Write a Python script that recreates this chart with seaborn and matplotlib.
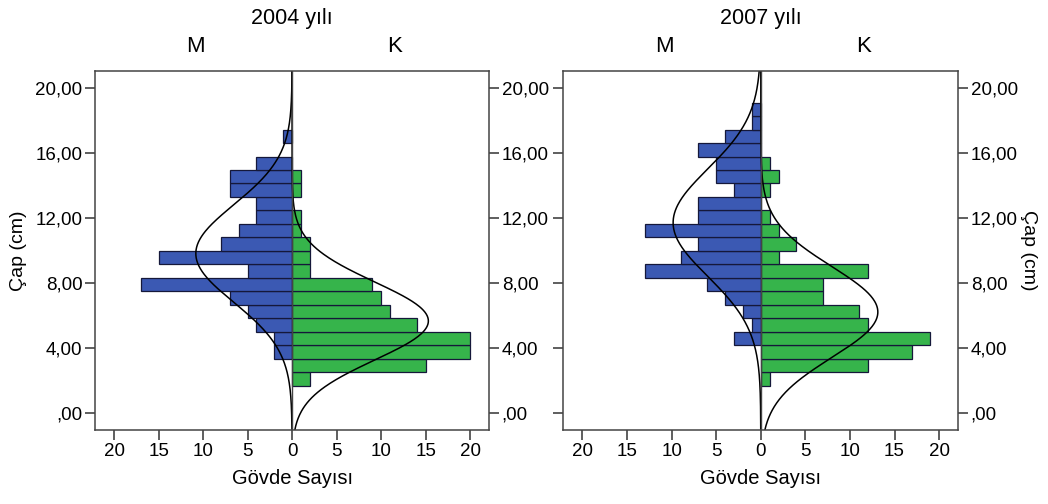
import numpy as np
import pandas as pd
import matplotlib
matplotlib.use("Agg")
import matplotlib.pyplot as plt
import seaborn as sns
from matplotlib.ticker import FuncFormatter

# histogram bins (cm)
bin_start = 1.66
bin_width = 0.83
n_bins = 21

# counts per bin, from bottom (1.66 cm) upward
m_2004 = [0, 0, 2, 2, 4, 5, 7, 17, 5, 15, 8, 6, 4, 4, 7, 7, 4, 0, 1, 0, 0]
k_2004 = [2, 15, 20, 20, 14, 11, 10, 9, 2, 2, 2, 1, 1, 0, 1, 1, 0, 0, 0, 0, 0]
m_2007 = [0, 0, 0, 3, 1, 2, 4, 6, 13, 9, 7, 13, 7, 7, 3, 5, 5, 7, 4, 1, 1]
k_2007 = [1, 12, 17, 19, 12, 11, 7, 7, 12, 2, 4, 2, 1, 0, 1, 2, 1, 0, 0, 0, 0]

# normal curve parameters (mean, sd)
m_2004_fit = (9.8, 3.0)
k_2004_fit = (5.65, 2.4)
m_2007_fit = (11.7, 3.3)
k_2007_fit = (6.2, 2.8)

years = ["2004 yılı", "2007 yılı"]
y_ticks = [0, 4, 8, 12, 16, 20]
x_ticks = [-20, -15, -10, -5, 0, 5, 10, 15, 20]

BLUE = "#3b59b3"
GREEN = "#36b44b"
EDGE = "#15183a"
SPINE = "#444444"
FS = 13.5

sns.set_style("ticks")
plt.rcParams["font.family"] = ["Liberation Sans", "DejaVu Sans"]
plt.rcParams["font.size"] = FS
plt.rcParams["text.color"] = "black"
plt.rcParams["axes.labelcolor"] = "black"

edges = bin_start + bin_width * np.arange(n_bins + 1)
ylim = (-1.06, 21.05)
xlim = (-22.15, 22.15)


def fmt_y(v, pos):
    s = f"{v:.2f}".replace(".", ",")
    return s[1:] if s.startswith("0") else s


fig = plt.figure(figsize=(10.48, 5.04), dpi=100)
ax1 = fig.add_axes([0.0906, 0.1468, 0.3762, 0.7129])
ax2 = fig.add_axes([0.5375, 0.1468, 0.3769, 0.7129])

panels = [(ax1, m_2004, k_2004, m_2004_fit, k_2004_fit),
          (ax2, m_2007, k_2007, m_2007_fit, k_2007_fit)]

for i, (ax, m_counts, k_counts, m_fit, k_fit) in enumerate(panels):
    df = pd.DataFrame({"low": edges[:-1], "M": m_counts, "K": k_counts})
    df_m = df[df["M"] > 0]
    df_k = df[df["K"] > 0]
    ax.barh(df_m["low"], -df_m["M"], height=bin_width, align="edge",
            color=BLUE, edgecolor=EDGE, linewidth=0.9)
    ax.barh(df_k["low"], df_k["K"], height=bin_width, align="edge",
            color=GREEN, edgecolor=EDGE, linewidth=0.9)

    # fitted normal curves
    ys = np.linspace(ylim[0], ylim[1], 400)
    for counts, (mu, sd), sign in [(m_counts, m_fit, -1), (k_counts, k_fit, 1)]:
        n = sum(counts)
        dens = n * bin_width * np.exp(-0.5 * ((ys - mu) / sd) ** 2) / (sd * np.sqrt(2 * np.pi))
        sns.lineplot(x=sign * dens, y=ys, sort=False, estimator=None,
                     color="black", linewidth=1.1, ax=ax)

    ax.axvline(0, color=SPINE, linewidth=1.0)
    ax.set_xlim(xlim)
    ax.set_ylim(ylim)
    ax.set_xticks(x_ticks)
    ax.set_xticklabels([str(abs(t)) for t in x_ticks])
    ax.set_yticks(y_ticks)
    ax.yaxis.set_major_formatter(FuncFormatter(fmt_y))
    ax.set_xlabel("Gövde Sayısı", labelpad=7, fontsize=14.5, color="black")
    ax.set_ylabel("")
    for sp in ax.spines.values():
        sp.set_visible(True)
        sp.set_color(SPINE)
        sp.set_linewidth(1.1)
    ax.tick_params(axis="both", length=7, width=1.1, color="#333333",
                   labelcolor="black", labelsize=FS, pad=2)
    ax.tick_params(axis="y", left=True, right=True)
    if i == 0:
        ax.tick_params(axis="y", labelleft=True, labelright=True)
        ax.set_ylabel("Çap (cm)", labelpad=6, fontsize=14, color="black")
    else:
        ax.tick_params(axis="y", labelleft=False, labelright=True)
        ax.yaxis.set_label_position("right")
        ax.set_ylabel("Çap (cm)", rotation=270, labelpad=14,
                      fontsize=14, color="black")

    ax.text(0.5, 1.145, years[i], transform=ax.transAxes,
            ha="center", va="center", fontsize=15.5, color="black")
    ax.text(0.255, 1.066, "M", transform=ax.transAxes, ha="center",
            va="center", fontsize=16, color="black")
    ax.text(0.76, 1.066, "K", transform=ax.transAxes, ha="center",
            va="center", fontsize=16, color="black")

fig.savefig("out.png", dpi=100)
plt.close(fig)
